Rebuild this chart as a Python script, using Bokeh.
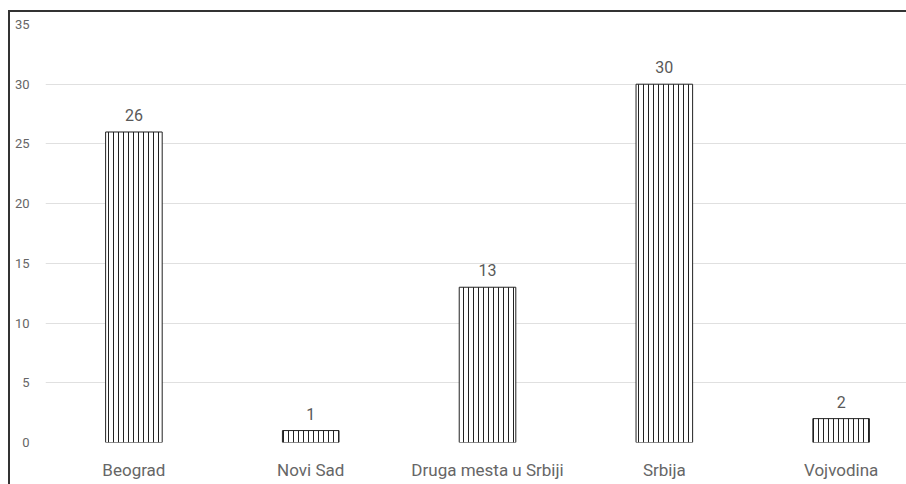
from bokeh.plotting import figure
from bokeh.models import ColumnDataSource, Range1d, FixedTicker, LabelSet
from bokeh.core.properties import value
from bokeh.embed import file_html
from bokeh.resources import INLINE

categories = ["Beograd", "Novi Sad", "Druga mesta u Srbiji", "Srbija", "Vojvodina"]
values = [26, 1, 13, 30, 2]
y_ticks = [0, 5, 10, 15, 20, 25, 30, 35]

xs = [i + 0.5 for i in range(len(categories))]
src = ColumnDataSource(dict(x=xs, top=values, label=[str(v) for v in values]))

p = figure(width=898, height=474, output_backend="svg", toolbar_location=None,
           x_range=Range1d(0, 4.881), y_range=Range1d(0, 35),
           min_border_left=35, min_border_right=0, min_border_top=12, min_border_bottom=44)
p.styles = {"border-left": "2px solid #333", "border-top": "2px solid #333",
            "box-sizing": "border-box", "margin-left": "8px", "margin-top": "10px"}
p.outline_line_color = None
p.background_fill_color = "white"
p.border_fill_color = "white"

p.vbar(x="x", top="top", bottom=0, width=0.32, source=src,
       fill_color="white", line_color="#222", line_width=1,
       hatch_pattern="vertical_line", hatch_color="#222", hatch_scale=5, hatch_weight=1)

labels = LabelSet(x="x", y="top", text="label", source=src, text_align="center",
                  text_baseline="bottom", y_offset=11, text_font=value("Roboto"),
                  text_font_size="16px", text_color="#595959")
p.add_layout(labels)

p.xaxis.ticker = FixedTicker(ticks=xs)
p.xaxis.major_label_overrides = {x: c for x, c in zip(xs, categories)}
p.xaxis.major_label_text_font = "Roboto"
p.xaxis.major_label_text_font_size = "17px"
p.xaxis.major_label_text_color = "#666666"
p.xaxis.major_label_standoff = 11
p.xaxis.axis_line_color = None
p.xaxis.major_tick_line_color = None
p.xaxis.minor_tick_line_color = None
p.xgrid.grid_line_color = None

p.yaxis.ticker = FixedTicker(ticks=y_ticks)
p.yaxis.major_label_text_font = "Roboto"
p.yaxis.major_label_text_font_size = "13px"
p.yaxis.major_label_text_color = "#666666"
p.yaxis.major_label_standoff = 10
p.yaxis.axis_line_color = None
p.yaxis.major_tick_line_color = None
p.yaxis.minor_tick_line_color = None
p.ygrid.grid_line_color = "#e0e0e0"
p.ygrid.ticker = FixedTicker(ticks=y_ticks)

open("out.html", "w").write(file_html(p, INLINE))
